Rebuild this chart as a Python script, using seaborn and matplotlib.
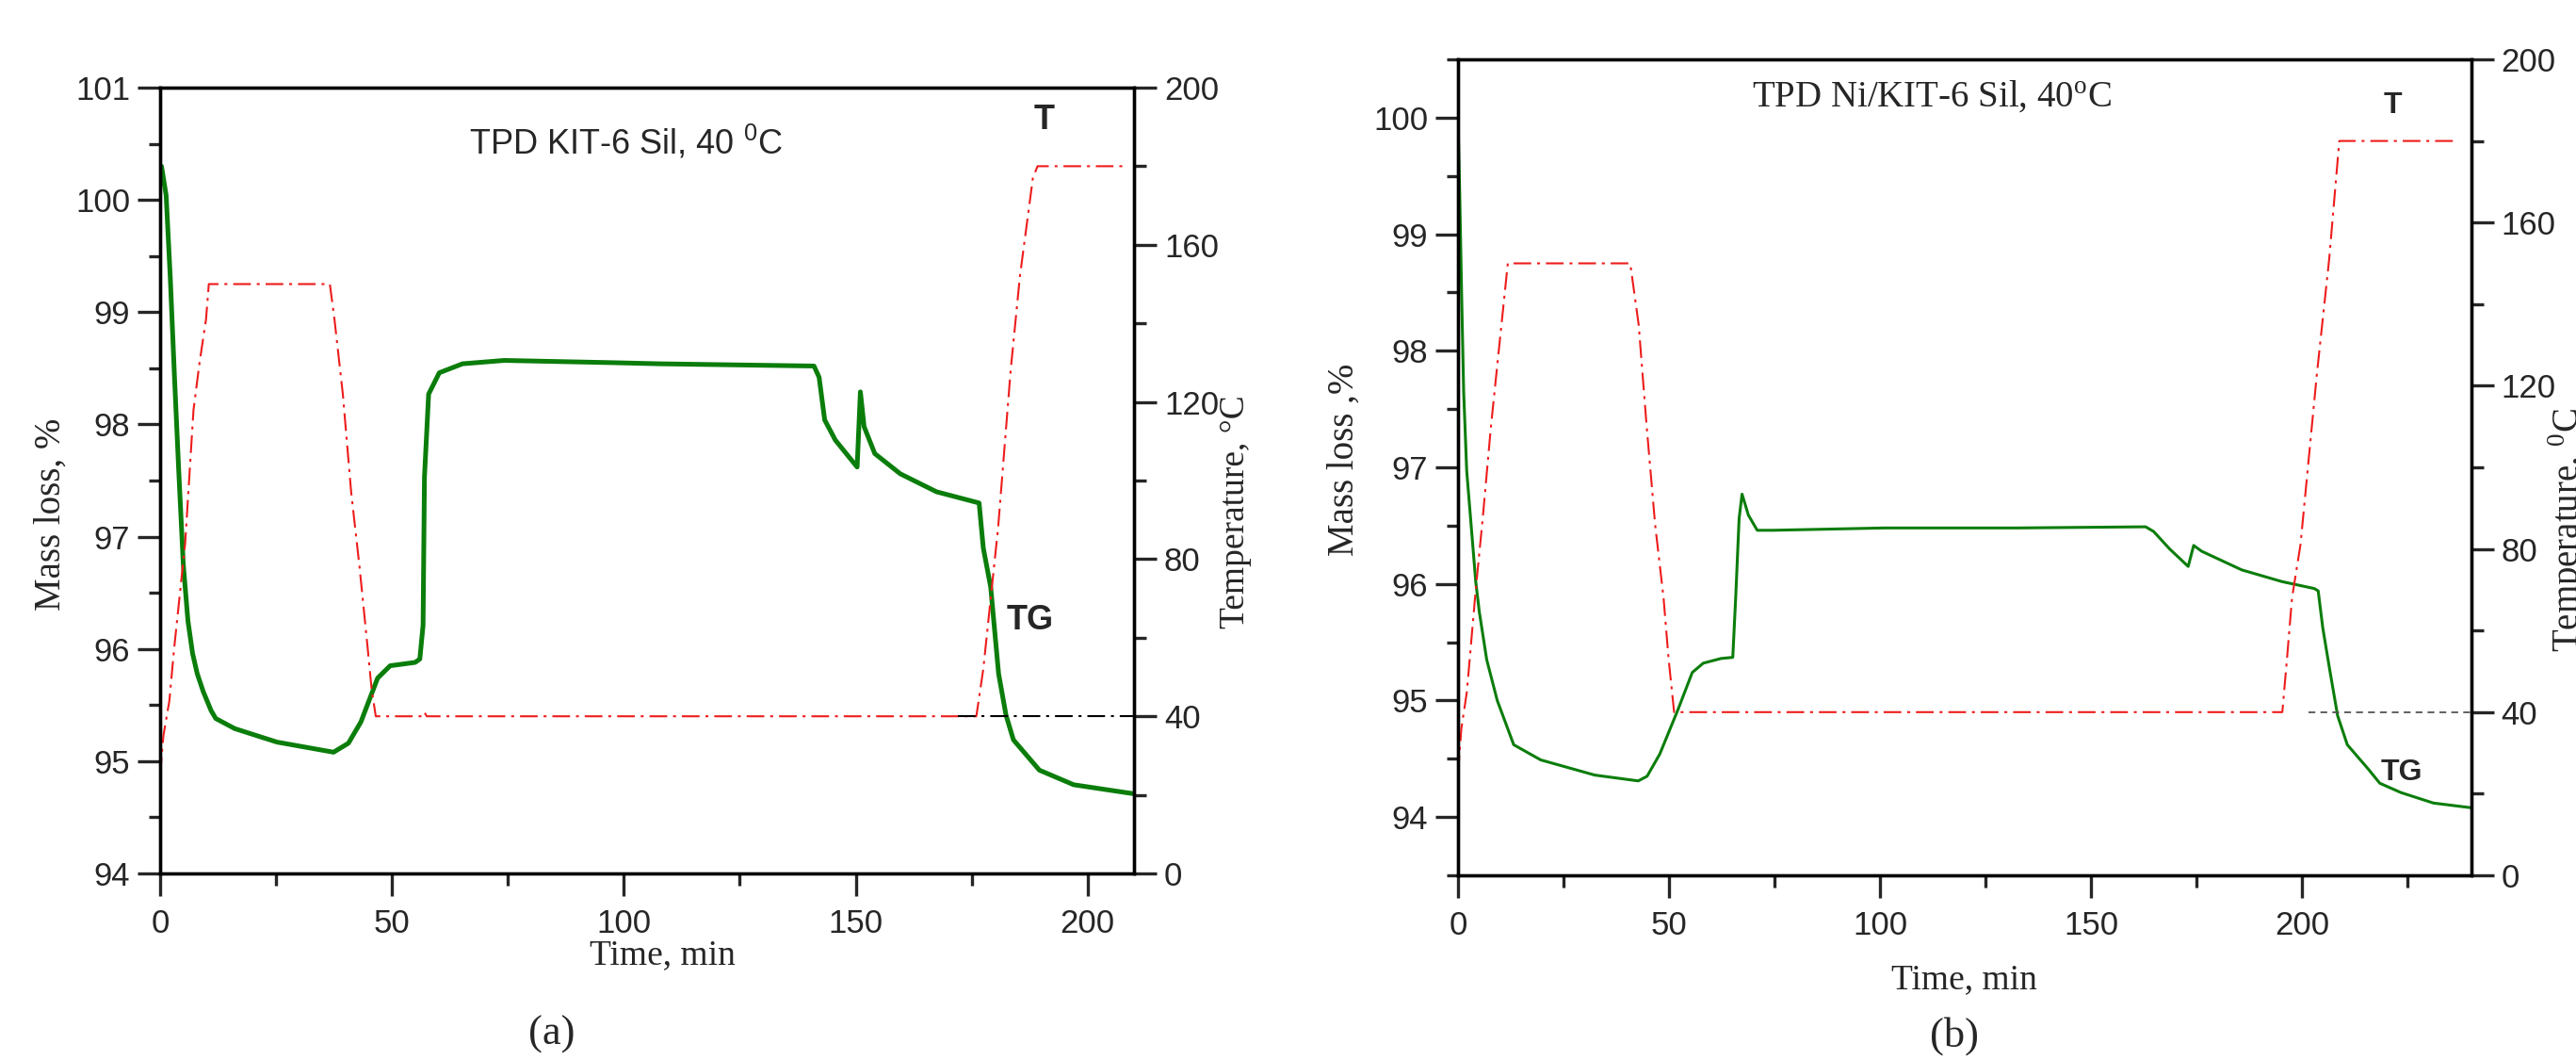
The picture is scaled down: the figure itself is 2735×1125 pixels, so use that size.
import numpy as np
import pandas as pd
import seaborn as sns
import matplotlib
matplotlib.use("Agg")
import matplotlib.pyplot as plt
from matplotlib.ticker import MultipleLocator

# ---- panel (a): TPD KIT-6 Sil ----
tg_a_time = [0, 0.3, 1.3, 2.2, 3.1, 4.0, 5.0, 6.0, 7.0, 8.0, 9.3, 11.0, 12.0, 16.1, 25.2, 37.4,
             40.6, 43.3, 46.9, 49.6, 55.0, 56.0, 56.7, 57.0, 57.9, 60.2, 65.2, 74.2, 97.5, 107.6,
             141.0, 142.1, 143.3, 145.6, 150.3, 151.0, 151.8, 154.1, 159.6, 167.4, 176.6, 177.5,
             179.1, 180.8, 182.4, 184.0, 189.6, 197.0, 208.3, 210]
tg_a_mass = [100.2, 100.3, 100.04, 99.3, 98.42, 97.6, 96.75, 96.25, 95.96, 95.78, 95.62, 95.45,
             95.38, 95.29, 95.17, 95.08, 95.16, 95.35, 95.74, 95.85, 95.88, 95.91, 96.21, 97.53,
             98.27, 98.46, 98.54, 98.57, 98.55, 98.54, 98.52, 98.42, 98.04, 97.86, 97.62, 98.29,
             97.98, 97.74, 97.56, 97.40, 97.30, 96.90, 96.55, 95.78, 95.41, 95.19, 94.92, 94.79,
             94.72, 94.71]
t_a_time = [0, 0.7, 2.0, 3.0, 5.4, 7.2, 8.5, 9.9, 10.5, 36.6, 37.6, 39.4, 41.2, 43.0, 44.7,
            45.6, 46.5, 56.5, 57.0, 57.5, 176.0, 177.5, 180.7, 183.4, 185.4, 188.2, 189.2, 208.7]
t_a_temp = [25, 35, 44, 57, 84, 118, 130, 141, 150, 150, 141, 122, 97, 78, 58, 47, 40, 40, 41,
            40, 40, 52, 88, 128, 152, 177, 180, 180]
ref_a_time = [172, 210]
ref_a_temp = [40, 40]

# ---- panel (b): TPD Ni/KIT-6 Sil ----
tg_b_time = [0, 0.4, 0.85, 1.34, 2.06, 4.2, 5.05, 6.8, 9.3, 13.2, 19.6, 32.4, 42.7, 44.8, 47.8,
             52.1, 55.5, 58.1, 62.3, 65.1, 65.8, 66.6, 67.3, 68.8, 70.9, 74.6, 101, 132.3, 162.9,
             164.8, 168.6, 173.0, 174.3, 176.2, 185.7, 195.2, 202.9, 203.8, 204.9, 206.5, 208.4,
             210.7, 215.7, 218.4, 223.4, 231.1, 240]
tg_b_mass = [100.0, 99.35, 98.5, 97.65, 96.97, 96.02, 95.76, 95.35, 95.0, 94.62, 94.49, 94.36,
             94.31, 94.35, 94.54, 94.92, 95.24, 95.32, 95.36, 95.37, 95.89, 96.56, 96.77, 96.59,
             96.46, 96.46, 96.48, 96.48, 96.49, 96.45, 96.30, 96.15, 96.33, 96.28, 96.12, 96.02,
             95.96, 95.94, 95.62, 95.27, 94.87, 94.62, 94.41, 94.29, 94.21, 94.12, 94.08]
t_b_time = [0, 0.8, 2.1, 4.2, 5.9, 7.8, 10.3, 11.8, 40.8, 42.8, 44.7, 46.7, 48.7, 49.9, 51.2,
            195.3, 196.4, 197.6, 199.6, 203.5, 206.4, 208.8, 237.1]
t_b_temp = [25, 36, 45, 70, 88, 110, 135, 150, 150, 135, 110, 86, 68, 53, 40, 40, 53, 68, 81,
            123, 151, 180, 180]
ref_b_time = [201.5, 240]
ref_b_temp = [40, 40]

W, H = 2735, 1125
sns.set_style("ticks")
plt.rcParams["font.family"] = ["Liberation Sans", "DejaVu Sans"]
plt.rcParams["axes.linewidth"] = 2.4

fig = plt.figure(figsize=(W / 100, H / 100), dpi=100)
green = "#0b7d0b"
red = "#ee1c1c"
dashdot = (0, (9, 3, 1.5, 3))
serif = ["Liberation Serif", "DejaVu Serif"]


def frac(x, y):
    return x / W, 1 - y / H


def style_axes(ax, ax2, xmax, ylim):
    ax.set_xlim(0, xmax)
    ax.set_ylim(*ylim)
    ax2.set_ylim(0, 200)
    ax.xaxis.set_major_locator(MultipleLocator(50))
    ax.xaxis.set_minor_locator(MultipleLocator(25))
    ax.yaxis.set_major_locator(MultipleLocator(1))
    ax.yaxis.set_minor_locator(MultipleLocator(0.5))
    ax2.yaxis.set_major_locator(MultipleLocator(40))
    ax2.yaxis.set_minor_locator(MultipleLocator(20))
    for a in (ax, ax2):
        a.tick_params(which="major", length=17, width=2.4, labelsize=25, direction="out")
        a.tick_params(which="minor", length=9, width=2.4, direction="out")
        for s in a.spines.values():
            s.set_visible(True)
            s.set_color("black")
            s.set_linewidth(2.4)
    ax.tick_params(axis="x", which="both", top=False, pad=10)
    ax.tick_params(axis="y", which="both", right=False, pad=6)
    ax2.tick_params(axis="y", which="both", left=False, right=True, pad=6)
    ax.set_xlabel("")
    ax.set_ylabel("")
    ax2.set_ylabel("")
    ax2.grid(False)
    ax.grid(False)


def panel(rect, tg_t, tg_m, t_t, t_v, ref_t, ref_v, ref_style, xmax, ylim, tg_lw):
    ax = fig.add_axes(rect)
    ax2 = ax.twinx()
    sns.lineplot(x=tg_t, y=tg_m, ax=ax, color=green, linewidth=tg_lw,
                 estimator=None, sort=False)
    sns.lineplot(x=t_t, y=t_v, ax=ax2, color=red, linewidth=1.5,
                 estimator=None, sort=False, dashes=False)
    ax2.lines[-1].set_linestyle(dashdot)
    sns.lineplot(x=ref_t, y=ref_v, ax=ax2, estimator=None, sort=False, **ref_style)
    style_axes(ax, ax2, xmax, ylim)
    return ax, ax2


# panel (a)
ax_a, ax2_a = panel([170 / W, 1 - 927 / H, (1204 - 170) / W, (927 - 93) / H],
                    tg_a_time, tg_a_mass, t_a_time, t_a_temp, ref_a_time, ref_a_temp,
                    dict(color="black", linewidth=1.5), 210, (94, 101), 3.6)
ax2_a.lines[-1].set_linestyle(dashdot)
ax_a.text(66.6, 100.41, r"TPD KIT-6 Sil, 40 $^\mathregular{0}$C", fontsize=26, va="baseline")
ax_a.text(190.7, 100.71, "T", fontsize=26, fontweight="bold", ha="center", va="center")
ax_a.text(187.6, 96.25, "TG", fontsize=26, fontweight="bold", ha="center", va="center")

# panel (b)
ax_b, ax2_b = panel([1548 / W, 1 - 929 / H, (2623.5 - 1548) / W, (929 - 63) / H],
                    tg_b_time, tg_b_mass, t_b_time, t_b_temp, ref_b_time, ref_b_temp,
                    dict(color="#555555", linewidth=1.3), 240, (93.5, 100.5), 2.2)
ax2_b.lines[-1].set_linestyle((0, (4, 3)))
ax_b.text(69.7, 100.09, r"TPD Ni/KIT-6 Sil, 40$^\mathregular{o}$C", fontsize=28,
          va="baseline", family=serif)
ax_b.text(221.5, 100.1, "T", fontsize=23, fontweight="bold", ha="center", va="center")
ax_b.text(223.5, 94.38, "TG", fontsize=23, fontweight="bold", ha="center", va="center")

# axis titles placed in figure coordinates
fig.text(*frac(54, 546), "Mass loss, %", rotation=90, ha="center", va="center",
         fontsize=28, family=serif)
fig.text(*frac(1312, 543), "Temperature, °C", rotation=90, ha="center", va="center",
         fontsize=27, family=serif)
fig.text(*frac(703, 1014), "Time, min", ha="center", va="center", fontsize=27, family=serif)
fig.text(*frac(586, 1098), "(a)", ha="center", va="center", fontsize=32, family=serif)

fig.text(*frac(1427, 488), "Mass loss ,%", rotation=90, ha="center", va="center",
         fontsize=28, family=serif)
fig.text(*frac(2726, 563), r"Temperature, $^\mathregular{0}$C", rotation=90, ha="center",
         va="center", fontsize=28, family=serif)
fig.text(*frac(2085, 1040), "Time, min", ha="center", va="center", fontsize=27, family=serif)
fig.text(*frac(2075, 1100), "(b)", ha="center", va="center", fontsize=32, family=serif)

fig.savefig("out.png", dpi=100, facecolor="white")
